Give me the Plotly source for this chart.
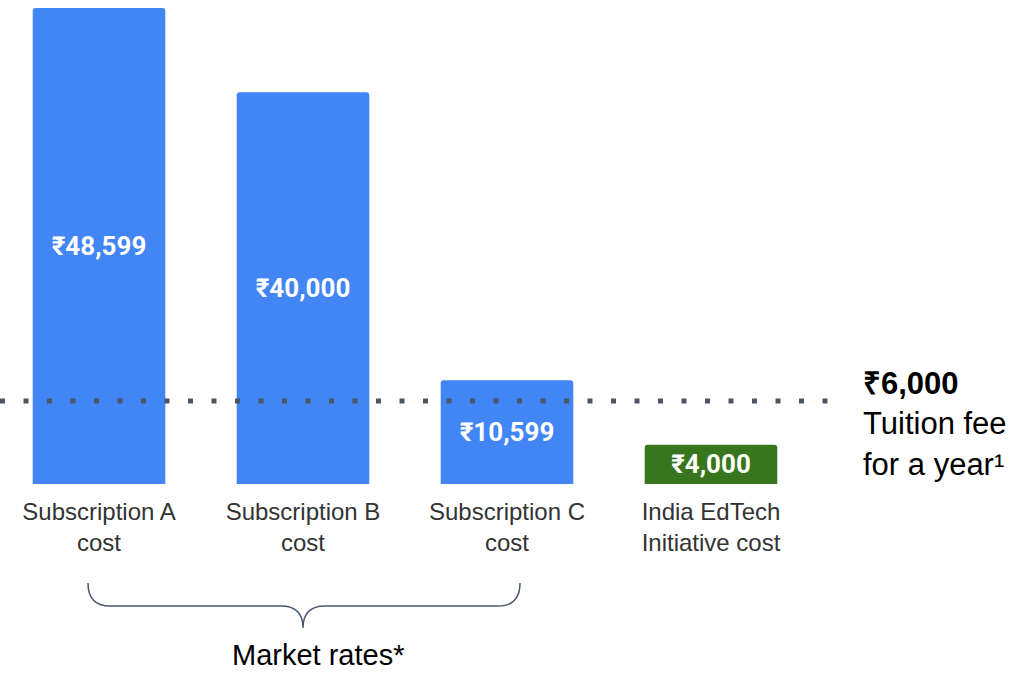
import plotly.graph_objects as go

# ---- data ----
categories = ["Subscription A<br>cost", "Subscription B<br>cost",
              "Subscription C<br>cost", "India EdTech<br>Initiative cost"]
costs = [48599, 40000, 10599, 4000]
cost_labels = ["₹48,599", "₹40,000", "₹10,599", "₹4,000"]
bar_colors = ["#4285F4", "#4285F4", "#4285F4", "#38761D"]
tuition_fee = 6000
tuition_label = "₹6,000"
bracket_label = "Market rates*"

W, H = 1014, 675
plot_h = 484

x_pos = list(range(len(categories)))

fig = go.Figure()
fig.add_trace(go.Bar(
    x=x_pos, y=costs,
    marker=dict(color=bar_colors, line=dict(width=0), cornerradius=3),
    text=cost_labels, textposition="inside", insidetextanchor="middle",
    textangle=0,
    textfont=dict(family="Roboto", size=26, color="white", weight="bold"),
    hoverinfo="skip",
))

# dotted tuition line (illustrative position, as in the original)
line_y = 83 / plot_h
fig.add_shape(type="line", xref="paper", yref="paper",
              x0=0.0, x1=835 / W, y0=line_y, y1=line_y,
              line=dict(color="#4B5566", width=5, dash="5px,18.5px"),
              layer="above")

fig.add_annotation(
    xref="paper", yref="paper", x=861 / W, y=(plot_h - 424) / plot_h,
    xanchor="left", yanchor="middle", align="left", showarrow=False,
    text=f"<b>{tuition_label}</b><br>Tuition fee<br>for a year¹",
    font=dict(family="Arial", size=31, color="black"),
)

# curly brace under first three bars
def px(x):
    return x / W

def py(y):
    return (plot_h - y) / plot_h

xl, xr, xm = 88, 520, 303
yt, yh, ytip = 583, 606, 628
r = 22
path = (
    f"M {px(xl)},{py(yt)} "
    f"Q {px(xl)},{py(yh)} {px(xl + r)},{py(yh)} "
    f"L {px(xm - r)},{py(yh)} "
    f"Q {px(xm)},{py(yh)} {px(xm)},{py(ytip)} "
    f"Q {px(xm)},{py(yh)} {px(xm + r)},{py(yh)} "
    f"L {px(xr - r)},{py(yh)} "
    f"Q {px(xr)},{py(yh)} {px(xr)},{py(yt)}"
)
fig.add_shape(type="path", xref="paper", yref="paper", path=path,
              line=dict(color="#4A5A70", width=1.5))

fig.add_annotation(
    xref="paper", yref="paper", x=px(318), y=py(655),
    xanchor="center", yanchor="middle", showarrow=False,
    text=bracket_label, borderpad=0,
    font=dict(family="Arial", size=29, color="black"),
)

fig.update_layout(
    width=W, height=H,
    margin=dict(l=0, r=0, t=0, b=H - plot_h),
    paper_bgcolor="white", plot_bgcolor="white",
    bargap=0.35, showlegend=False,
    xaxis=dict(range=[-99 / 204, (W - 99) / 204], tickvals=x_pos,
               ticktext=categories, showgrid=False, zeroline=False,
               showline=False, ticks="", ticklabelstandoff=11,
               tickfont=dict(family="Arial", size=24, color="#333333")),
    yaxis=dict(range=[0, plot_h * 48599 / 476], visible=False,
               showgrid=False, zeroline=False),
)

fig.write_html("out.html",
               config={"displayModeBar": False},
               post_script="document.body.style.margin='0';"
                           "document.body.style.overflow='hidden';")
